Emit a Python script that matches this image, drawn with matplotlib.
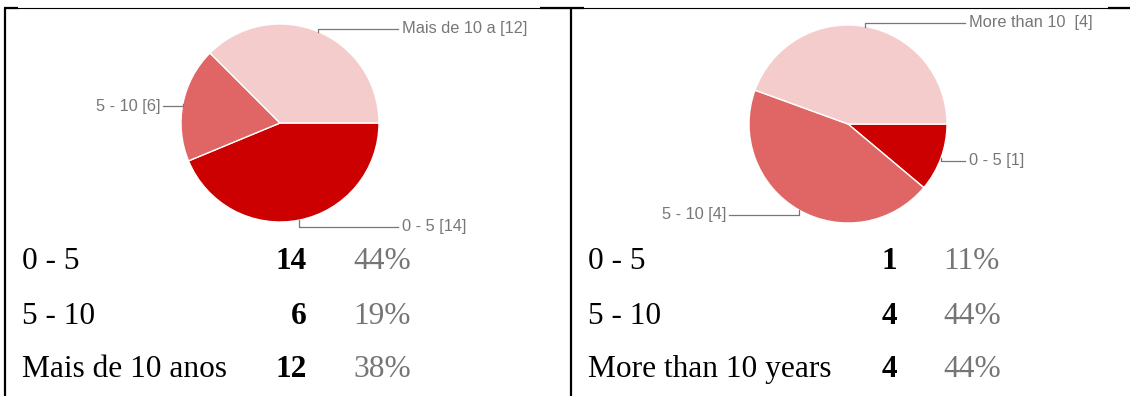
import matplotlib
matplotlib.use("Agg")
import matplotlib.pyplot as plt
import numpy as np

# Survey answers: years of experience
cats_pt = ["0 - 5", "5 - 10", "Mais de 10 anos"]
short_pt = ["0 - 5", "5 - 10", "Mais de 10 a"]
vals_pt = [14, 6, 12]

cats_en = ["0 - 5", "5 - 10", "More than 10 years"]
short_en = ["0 - 5", "5 - 10", "More than 10 "]
vals_en = [1, 4, 4]

colors = ["#cc0000", "#e06666", "#f4cccc"]

W, H = 1130, 396
fig = plt.figure(figsize=(W / 100, H / 100), dpi=100)
fig.patch.set_facecolor("white")

# overlay axes in pixel units for frame, leaders and text
ov = fig.add_axes([0, 0, 1, 1], zorder=5)
ov.set_xlim(0, W)
ov.set_ylim(H, 0)
ov.axis("off")
ov.patch.set_alpha(0)

# table frame
ov.plot([4, W], [8, 8], color="black", lw=0.8, solid_capstyle="butt")
for x0, x1 in [(4, 18), (540, 584), (1108, W)]:
    ov.plot([x0, x1], [8, 8], color="black", lw=1.6, solid_capstyle="butt")
for x in (5, 571):
    ov.plot([x, x], [7.5, H], color="black", lw=1.6, solid_capstyle="butt")


def draw_panel(vals, short, cats, cx, cy, r, label_pos, col_x):
    pax = fig.add_axes([(cx - r) / W, (H - cy - r) / H, 2 * r / W, 2 * r / H])
    wedges, _ = pax.pie(vals, colors=colors, startangle=0, counterclock=False,
                        radius=1.0,
                        wedgeprops=dict(edgecolor="white", linewidth=1.0))
    pax.set_xlim(-1, 1)
    pax.set_ylim(-1, 1)
    pax.set_aspect("equal")
    pax.axis("off")

    for w, name, v, (ly, lx, side) in zip(wedges, short, vals, label_pos):
        mid = np.deg2rad((w.theta1 + w.theta2) / 2)
        axp = cx + r * np.cos(mid)
        ayp = cy - r * np.sin(mid)
        end = lx - 4 if side == "left" else lx + 3
        ov.plot([axp, axp, end], [ayp, ly, ly], color="#777777", lw=0.9)
        ov.text(lx, ly, f"{name} [{v}]", ha=side, va="center",
                fontsize=11.8, color="#777777", family="Liberation Sans")

    total = sum(vals)
    x_lab, x_num, x_pct = col_x
    for cat, v, yb in zip(cats, vals, [269, 324, 377]):
        pct = int(v / total * 100 + 0.5)
        ov.text(x_lab, yb, cat, ha="left", va="baseline", fontsize=22.6,
                family="Liberation Serif", color="black")
        ov.text(x_num, yb, str(v), ha="right", va="baseline", fontsize=22.6,
                family="Liberation Serif", weight="bold", color="black")
        ov.text(x_pct, yb, f"{pct}%", ha="left", va="baseline", fontsize=22.6,
                family="Liberation Serif", color="#757575")


# label positions: (y, x, horizontal alignment) per slice
draw_panel(vals_pt, short_pt, cats_pt, 280, 123, 99,
           [(227, 402, "left"), (106, 160, "right"), (28.5, 402, "left")],
           (22, 307, 353))
draw_panel(vals_en, short_en, cats_en, 848, 124, 99,
           [(161, 969, "left"), (215, 726, "right"), (23, 969, "left")],
           (588, 897, 943))

fig.savefig("out.png", dpi=100, facecolor="white")
